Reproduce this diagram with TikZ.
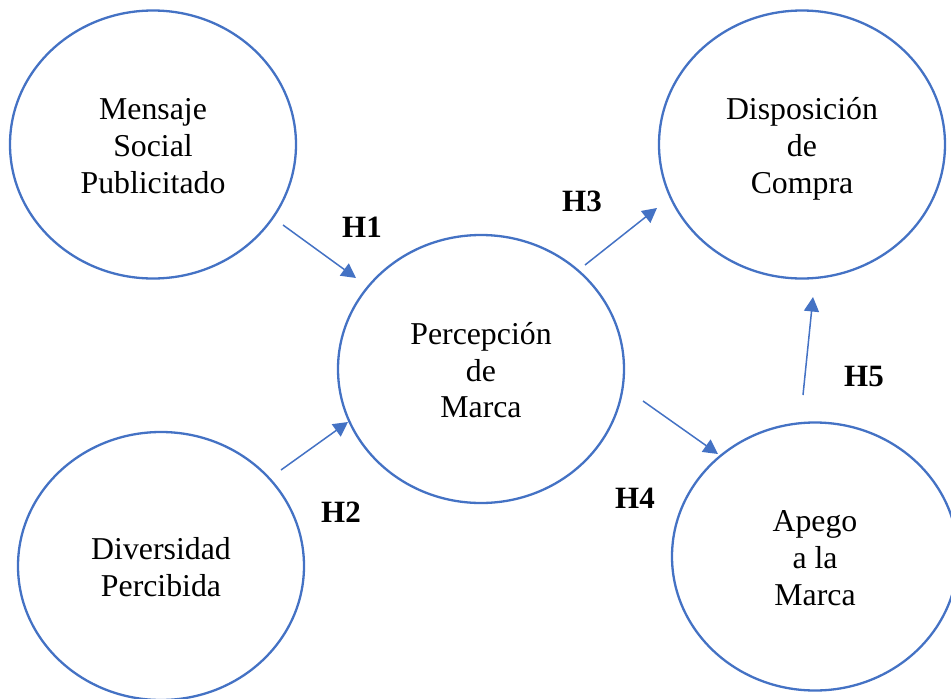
\documentclass[tikz,border=0pt]{standalone}
\usepackage{fontspec}
\setmainfont{Liberation Serif}
\usetikzlibrary{shapes.geometric,arrows.meta}
\definecolor{cblue}{RGB}{68,114,196}
\newcommand\topstrut{\rule{0pt}{32pt}}
\newcommand\botstrut{\rule[-8pt]{0pt}{8pt}}
\begin{document}
\begin{tikzpicture}[x=1pt,y=-1pt,
  construct/.style={ellipse,draw=cblue,line width=2.3pt,inner sep=0pt,
    minimum width=286pt,minimum height=268pt,align=center,
    font=\fontsize{31.8}{36.8}\selectfont},
  arr/.style={draw=cblue,line width=1.5pt,-{Triangle[length=14.5pt,width=15pt]}},
  hlab/.style={font=\fontsize{31}{31}\selectfont\bfseries,inner sep=0pt}]
\useasboundingbox (0,0) rectangle (951,699);
\node[construct] (ms) at (153,144.5) {\topstrut Mensaje\\Social\\Publicitado\botstrut};
\node[construct] (dc) at (802,144.5) {\topstrut Disposición\\de\\Compra\botstrut};
\node[construct] (pm) at (481,369) {\topstrut Percepción\\de\\Marca\botstrut};
\node[construct] (dp) at (161,566) {\topstrut Diversidad\\Percibida\botstrut};
\node[construct] (am) at (815,556.5) {\topstrut Apego\\a la\\Marca\botstrut};
\coordinate (h1s) at (283,225);
\coordinate (h1e) at (356,278);
\coordinate (h2s) at (281,470);
\coordinate (h2e) at (348,422);
\coordinate (h3s) at (585,265);
\coordinate (h3e) at (657,208);
\coordinate (h4s) at (643,401);
\coordinate (h4e) at (718,454);
\coordinate (h5s) at (803,395);
\coordinate (h5e) at (813,297);
\draw[arr] (h1s) -- (h1e);
\draw[arr] (h2s) -- (h2e);
\draw[arr] (h3s) -- (h3e);
\draw[arr] (h4s) -- (h4e);
\draw[arr] (h5s) -- (h5e);
\node[hlab] (l1) at (362,227) {H1};
\node[hlab] (l2) at (341,512) {H2};
\node[hlab] (l3) at (582,201) {H3};
\node[hlab] (l4) at (635,498) {H4};
\node[hlab] (l5) at (864,376) {H5};
\end{tikzpicture}
\end{document}
